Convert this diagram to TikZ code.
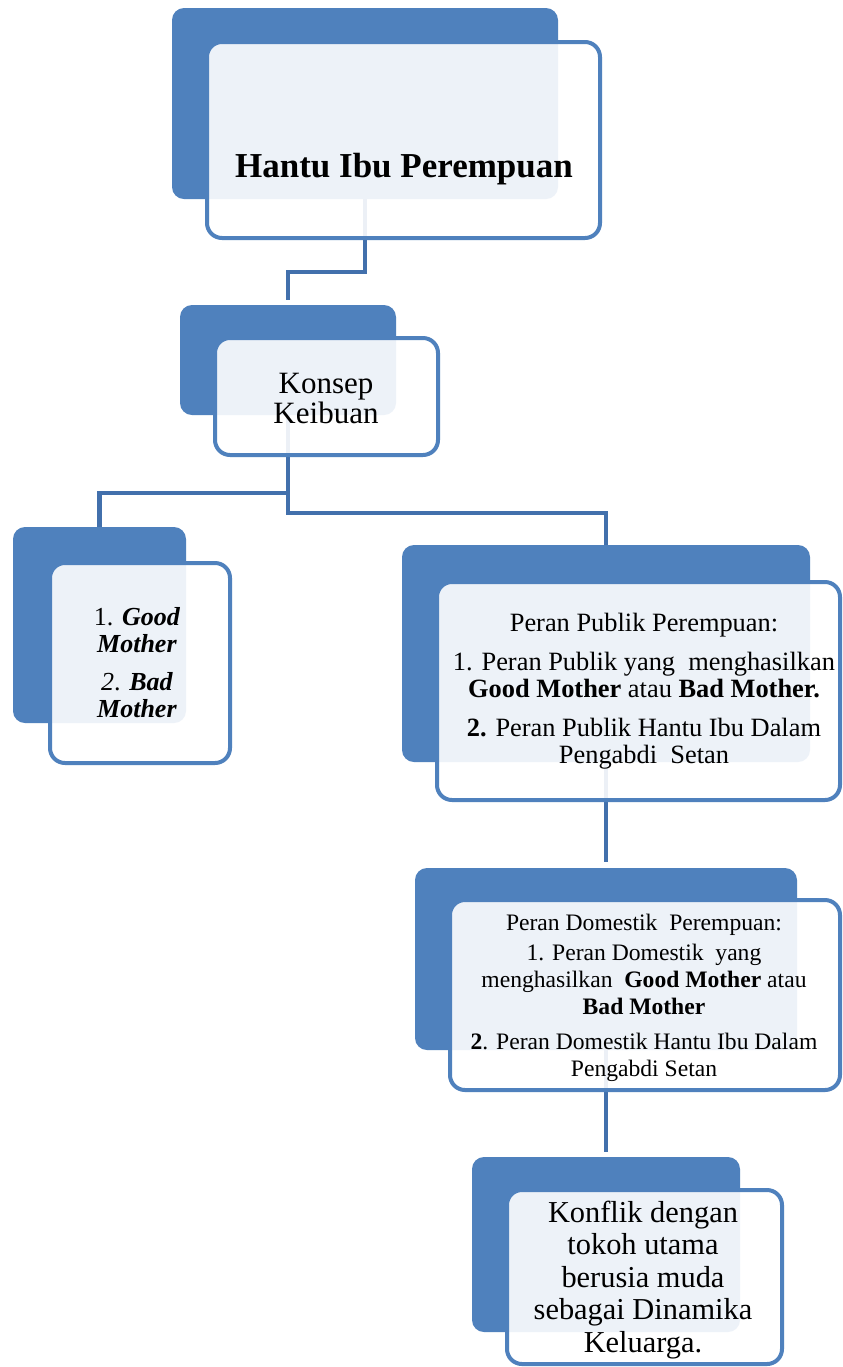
\documentclass[tikz,border=0pt]{standalone}
\usepackage{fontspec}
\setmainfont{Liberation Serif}
\definecolor{boxblue}{RGB}{79,129,189}
\definecolor{connblue}{RGB}{66,112,172}
\tikzset{
  darkbox/.style={draw=none, fill=boxblue, rounded corners=6pt, inner sep=0pt, rectangle},
  lightbox/.style={draw=boxblue, line width=2pt, fill=white, fill opacity=0.9, rounded corners=7.5pt, inner sep=0pt, rectangle},
  conn/.style={draw=connblue, line width=2.4pt},
  lbl/.style={inner sep=0pt, align=center, text=black},
}
\begin{document}
\begin{tikzpicture}[x=0.5pt,y=-0.5pt]
\fill[white] (0,0) rectangle (842,1367);
\useasboundingbox (0,0) rectangle (842,1367);
\clip (0,0) rectangle (842,1367);
% helper levels for connectors
\coordinate (h1) at (0,272);
\coordinate (h2) at (0,493);
\coordinate (h3) at (0,513);
% dark boxes
\node[darkbox, minimum width=193pt, minimum height=95.5pt] (topD) at (365,103.5) {};
\node[darkbox, minimum width=108pt, minimum height=55pt] (konD) at (288,360) {};
\node[darkbox, minimum width=86.5pt, minimum height=98pt] (gmD) at (99.5,625) {};
\node[darkbox, minimum width=204pt, minimum height=108.5pt] (pubD) at (606,653.5) {};
\node[darkbox, minimum width=191pt, minimum height=91pt] (domD) at (606,959) {};
\node[darkbox, minimum width=134pt, minimum height=87.5pt] (konfD) at (606,1244.5) {};
% connectors
\draw[conn, shorten >=2.5pt] (topD.south) -- (topD.south |- h1) -| (konD.north);
\draw[conn] (konD.south) -- (konD.south |- h2) -| (gmD.north);
\draw[conn] (konD.south) -- (konD.south |- h3) -| (pubD.north);
\draw[conn, shorten >=3pt] (pubD.south) -- (domD.north);
\draw[conn, shorten >=2.5pt] (domD.south) -- (konfD.north);
% light boxes
\node[lightbox, minimum width=196.5pt, minimum height=98pt] (topL) at (403.5,140) {};
\node[lightbox, minimum width=111.5pt, minimum height=58.5pt] (konL) at (326.5,396.5) {};
\node[lightbox, minimum width=90pt, minimum height=100pt] (gmL) at (140,663) {};
\node[lightbox, minimum width=201.5pt, minimum height=109pt] (pubL) at (638.5,691) {};
\node[lightbox, minimum width=195pt, minimum height=95pt] (domL) at (645,995) {};
\node[lightbox, minimum width=137.5pt, minimum height=87pt] (konfL) at (644.5,1277) {};
% texts
\node[lbl, anchor=base, font=\fontsize{17.5}{20}\selectfont\bfseries] (t1) at (404,177) {Hantu Ibu Perempuan};
\node[lbl, font=\fontsize{15.5}{15}\selectfont] (t2) at (326,398) {Konsep\\Keibuan};
\node[lbl, font=\fontsize{13}{13.5}\selectfont] (t3) at (137,663)
  {1. \textbf{\textit{Good}}\\\textbf{\textit{Mother}}\\[5.5pt]\textit{2}. \textbf{\textit{Bad}}\\\textbf{\textit{Mother}}};
\node[lbl, font=\fontsize{13.2}{13.5}\selectfont] (t4) at (644,691)
  {Peran Publik Perempuan:\\[6pt]1. Peran Publik yang\ \ menghasilkan\\\textbf{Good Mother} atau \textbf{Bad Mother.}\\[6pt]\textbf{2.} Peran Publik Hantu Ibu Dalam\\Pengabdi\ \ Setan};
\node[lbl, font=\fontsize{11.8}{13.5}\selectfont] (t5) at (644,998)
  {Peran Domestik\ \ Perempuan:\\[1.5pt]1. Peran Domestik\ \ yang\\menghasilkan\ \ \textbf{Good Mother} atau\\\textbf{Bad Mother}\\[4pt]\textbf{2}. Peran Domestik Hantu Ibu Dalam\\Pengabdi Setan};
\node[lbl, font=\fontsize{15.2}{16.25}\selectfont] (t6) at (643,1280)
  {Konflik dengan\\tokoh utama\\berusia muda\\sebagai Dinamika\\Keluarga.};
\end{tikzpicture}
\end{document}
